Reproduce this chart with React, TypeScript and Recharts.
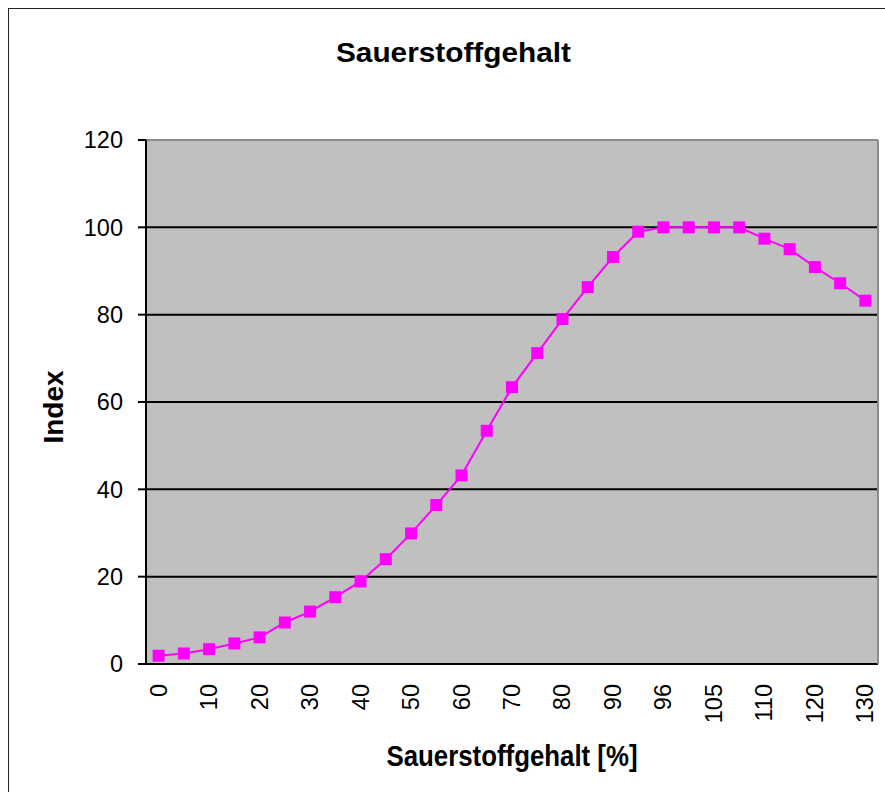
import React from 'react';
import {
  LineChart,
  Line,
  XAxis,
  YAxis,
  CartesianGrid,
  ReferenceLine,
} from 'recharts';

// x categories (oxygen content in %) and the index read for each
const categories = [
  '0', '5', '10', '15', '20', '25', '30', '35', '40', '45',
  '50', '55', '60', '65', '70', '75', '80', '85', '90', '95',
  '96', '100', '105', '108', '110', '115', '120', '125', '130',
];
const indexValues = [
  1.9, 2.4, 3.4, 4.7, 6.1, 9.5, 12.0, 15.3, 18.9, 24.0,
  29.9, 36.4, 43.2, 53.4, 63.4, 71.2, 79.0, 86.3, 93.2, 99.0,
  100, 100, 100, 100, 97.4, 95.0, 90.9, 87.2, 83.2,
];
const yTicks = [0, 20, 40, 60, 80, 100, 120];

const data = categories.map((label, i) => ({ idx: i, label, value: indexValues[i] }));
// labels only on every second category, tick marks between categories (Excel style)
const labelTicks = categories.map((_, i) => i).filter((i) => i % 2 === 0);
const boundaryTicks = [...categories.map((_, i) => i - 0.5), categories.length - 0.5];
const xDomain = [-0.5, categories.length - 0.5];

const FONT = '"Liberation Sans", Arial, sans-serif';

const XTick = (props: any) => {
  const { x, y, payload } = props;
  return (
    <text
      x={x}
      y={y}
      transform={`rotate(-90 ${x} ${y})`}
      textAnchor="end"
      dominantBaseline="central"
      fontSize={23.5}
      fontFamily={FONT}
      fill="#000"
    >
      {categories[payload.value]}
    </text>
  );
};

const XTitle = (props: any) => {
  const { viewBox } = props;
  if (!viewBox) return null;
  return (
    <text
      x={viewBox.x + viewBox.width / 2}
      y={viewBox.y + 102}
      textAnchor="middle"
      fontSize={30}
      fontWeight="bold"
      fontFamily={FONT}
      textLength={251}
      lengthAdjust="spacingAndGlyphs"
      fill="#000"
    >
      Sauerstoffgehalt [%]
    </text>
  );
};

const YTitle = (props: any) => {
  const { viewBox } = props;
  if (!viewBox) return null;
  const cx = viewBox.x + 44;
  const cy = viewBox.y + viewBox.height / 2 + 5;
  return (
    <text
      x={cx}
      y={cy}
      transform={`rotate(-90 ${cx} ${cy})`}
      textAnchor="middle"
      dominantBaseline="central"
      fontSize={28}
      fontWeight="bold"
      fontFamily={FONT}
      fill="#000"
    >
      Index
    </text>
  );
};

const SquareDot = (props: any) => {
  const { cx, cy, index } = props;
  if (cx == null || cy == null) return null;
  return <rect key={`dot-${index}`} x={cx - 6} y={cy - 6} width={12} height={12} fill="#FF00FF" />;
};

export default function App() {
  return (
    <div
      style={{
        position: 'fixed',
        left: 8,
        top: 8,
        width: 891,
        height: 800,
        borderLeft: '1px solid #222',
        borderTop: '1px solid #222',
        background: '#fff',
      }}
    >
      <LineChart
        width={876}
        height={784}
        data={data}
        margin={{ top: 131, right: 7, left: 0, bottom: 19 }}
      >
        <CartesianGrid
          xAxisId="main"
          vertical={false}
          stroke="#000"
          strokeWidth={2}
          fill="#C0C0C0"
          fillOpacity={1}
        />
        <XAxis
          xAxisId="bounds"
          type="number"
          domain={xDomain}
          ticks={boundaryTicks}
          interval={0}
          tick={false}
          height={0}
          tickSize={8}
          axisLine={{ stroke: '#000', strokeWidth: 2 }}
          tickLine={{ stroke: '#000', strokeWidth: 2 }}
          allowDataOverflow
        />
        <XAxis
          xAxisId="main"
          type="number"
          dataKey="idx"
          domain={xDomain}
          ticks={labelTicks}
          interval={0}
          axisLine={false}
          tickLine={false}
          tickSize={8}
          tickMargin={12}
          height={110}
          tick={<XTick />}
          label={<XTitle />}
          allowDataOverflow
        />
        <YAxis
          domain={[0, 120]}
          ticks={yTicks}
          interval={0}
          width={137}
          tickSize={8}
          tickMargin={15}
          axisLine={{ stroke: '#000', strokeWidth: 2 }}
          tickLine={{ stroke: '#000', strokeWidth: 2 }}
          tick={{ fill: '#000', fontSize: 23.5, fontFamily: FONT }}
          label={<YTitle />}
        />
        <ReferenceLine xAxisId="main" y={120} stroke="#8C8C8C" strokeWidth={2} />
        <ReferenceLine xAxisId="main" x={categories.length - 0.5} stroke="#8C8C8C" strokeWidth={2} />
        <Line
          xAxisId="main"
          type="linear"
          dataKey="value"
          stroke="#FF00FF"
          strokeWidth={2}
          dot={<SquareDot />}
          activeDot={false}
          isAnimationActive={false}
        />
      </LineChart>
      <svg width={891} height={90} style={{ position: 'absolute', left: 0, top: 0 }}>
        <text
          x={444.5}
          y={52.7}
          textAnchor="middle"
          fontSize={28}
          fontWeight="bold"
          fontFamily={FONT}
          textLength={235}
          lengthAdjust="spacingAndGlyphs"
          fill="#000"
        >
          Sauerstoffgehalt
        </text>
      </svg>
    </div>
  );
}
